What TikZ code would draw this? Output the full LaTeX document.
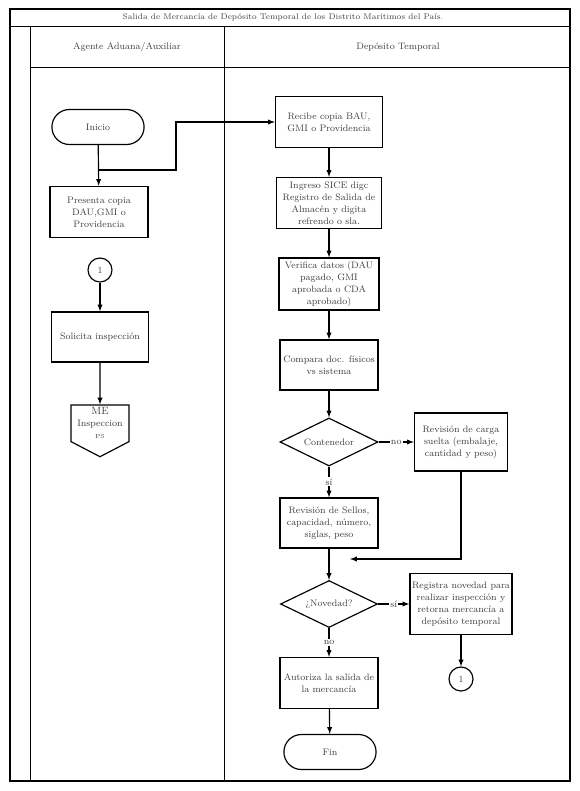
\documentclass[tikz,border=0pt]{standalone}
\usepackage{amsmath}
\usepackage{tikz}
\usepackage{xcolor}
\usetikzlibrary{shapes, positioning}

\begin{document}
\begin{tikzpicture}[
        txt/.style={font=\fontsize{8}{10.3}\selectfont, text=black!75},
        proc/.style={txt, rectangle, draw, line width=1.1pt, align=center, minimum width=2.94cm, minimum height=1.53cm, inner sep=1pt},
        term/.style={txt, rounded rectangle, draw, line width=1pt, minimum width=3cm, minimum height=1.05cm},
        deci/.style={txt, diamond, draw, line width=1pt, aspect=2, minimum width=2.94cm, minimum height=1.44cm, inner sep=0pt},
        conec/.style={txt, circle, draw, line width=1pt, minimum size=0.72cm, inner sep=0pt},
        pagina/.style={txt, shape=signal, signal to=south, signal from=nowhere, signal pointer angle=125, draw, line width=1pt, minimum width=1.74cm, minimum height=1.47cm, align=center, inner sep=1pt},
        flecha/.style={->, >=latex, line width=1pt},
        lbl/.style={txt, fill=white, inner sep=1pt}]
        \useasboundingbox (0,0) rectangle (17.37,-23.73);
        % marco y carriles
        \draw[line width=1.4pt] (0.30,-0.27) rectangle (17.10,-23.43);
        \draw[line width=0.8pt] (0.30,-0.78) -- (17.10,-0.78)
            (0.90,-2.01) -- (17.10,-2.01)
            (0.90,-0.78) -- (0.90,-23.43)
            (6.72,-0.78) -- (6.72,-23.43);
        \node[txt, font=\fontsize{7}{9}\selectfont] (titulo) at (8.49,-0.52) {Salida de Mercancía de Depósito Temporal de los Distrito Marítimos del País.};
        \node[txt] (agente) at (3.81,-1.41) {Agente Aduana/Auxiliar};
        \node[txt] (deposito) at (11.94,-1.41) {Depósito Temporal};

        % carril agente
        \node[term] (inicio) at (2.94,-3.81) {Inicio};
        \node[proc] (presenta) at (2.97,-6.36) {Presenta copia\\ DAU,GMI o\\ Providencia};
        \node[conec] (conA) at (3.0,-8.1) {1};
        \node[proc, minimum width=2.91cm, minimum height=1.5cm] (solicita) at (3.0,-10.11) {Solicita inspección};
        \node[pagina] (me) at (3.0,-12.7) {{\small ME}\\ Inspeccion\\ {\tiny PS}};

        % carril deposito
        \node[proc, minimum width=3.21cm] (recibe) at (9.87,-3.66) {Recibe copia BAU,\\ GMI o Providencia};
        \node[proc, minimum width=3.15cm] (ingreso) at (9.87,-6.09) {Ingreso SICE digc\\ Registro de Salida de\\ Almacén y digita\\ refrendo o sla.};
        \node[proc, minimum width=3.0cm, minimum height=1.56cm] (verifica) at (9.87,-8.52) {Verifica datos (DAU\\ pagado, GMI\\ aprobada o CDA\\ aprobado)};
        \node[proc, minimum height=1.5cm] (compara) at (9.87,-10.95) {Compara doc. físicos\\ vs sistema};
        \node[deci] (contenedor) at (9.87,-13.26) {Contenedor};
        \node[proc, minimum width=2.79cm, minimum height=1.74cm] (suelta) at (13.83,-13.26) {Revisión de carga\\ suelta (embalaje,\\ cantidad y peso)};
        \node[proc, minimum height=1.5cm] (sellos) at (9.87,-15.69) {Revisión de Sellos,\\ capacidad, número,\\ siglas, peso};
        \node[deci, minimum width=2.91cm, minimum height=1.41cm] (novedad) at (9.87,-18.12) {¿Novedad?};
        \node[proc, minimum width=3.06cm, minimum height=1.83cm] (registra) at (13.83,-18.12) {Registra novedad para\\ realizar inspección y\\ retorna mercancía a\\ depósito temporal};
        \node[proc] (autoriza) at (9.87,-20.49) {Autoriza la salida de\\ la mercancía};
        \node[term] (fin) at (9.9,-22.56) {Fin};
        \node[conec] (conB) at (13.83,-20.37) {1};

        \coordinate (cruce) at (2.94,-5.1);
        \coordinate (codo) at (5.28,-3.66);
        \coordinate (retorno) at (10.5,-16.77);

        \draw[flecha] (inicio) to (presenta);
        \draw[flecha] (cruce) -| (codo) to (recibe);
        \draw[flecha] (conA) to (solicita);
        \draw[flecha] (solicita) to (me);
        \draw[flecha] (recibe) to (ingreso);
        \draw[flecha] (ingreso) to (verifica);
        \draw[flecha] (verifica) to (compara);
        \draw[flecha] (compara) to (contenedor);
        \draw[flecha] (contenedor) to node[lbl] {no} (suelta);
        \draw[flecha] (contenedor) to node[lbl] {sí} (sellos);
        \draw[flecha] (suelta) |- (retorno);
        \draw[flecha] (sellos) to (novedad);
        \draw[flecha] (novedad) to node[lbl] {sí} (registra);
        \draw[flecha] (novedad) to node[lbl] {no} (autoriza);
        \draw[flecha] (registra) to (conB);
        \draw[flecha] (autoriza) to (fin);
    \end{tikzpicture}
\end{document}
